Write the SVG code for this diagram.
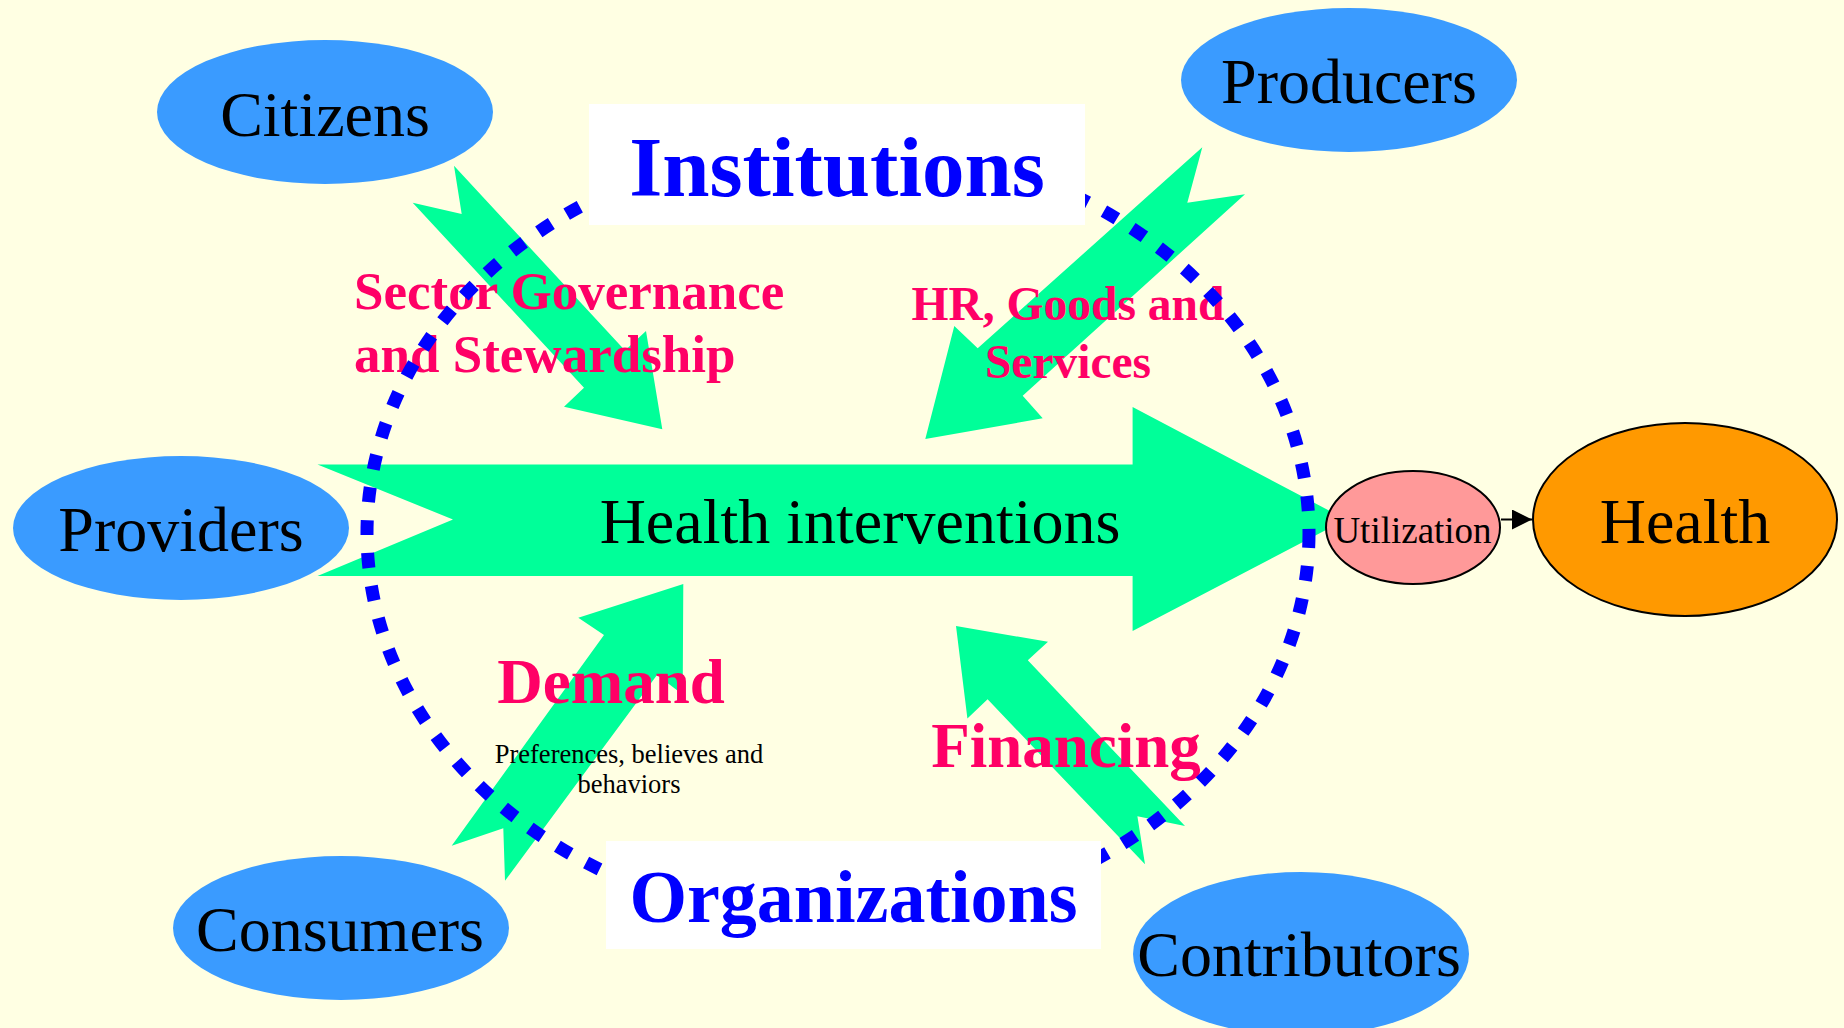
<svg xmlns="http://www.w3.org/2000/svg" width="1844" height="1028" viewBox="0 0 1844 1028">
<defs>
<style>
.bg{fill:#ffffe3}
.actor ellipse{fill:#3a9bff}
.serif{font-family:"Liberation Serif","Times New Roman",serif}
.actor text,.ntext{font-family:"Liberation Serif","Times New Roman",serif;font-size:64px;fill:#000;text-anchor:middle}
.flow{fill:#00ff99}
.lbl{font-family:"Liberation Serif","Times New Roman",serif;font-weight:bold;fill:#ff0066}
.frame{fill:none;stroke:#0000ff;stroke-width:13;stroke-dasharray:15 18}
.box rect{fill:#ffffff}
.box text{font-family:"Liberation Serif","Times New Roman",serif;font-weight:bold;fill:#0000ff;text-anchor:middle}
.out{stroke:#000;stroke-width:2}
</style>
<marker id="ah" markerUnits="userSpaceOnUse" markerWidth="21" markerHeight="20" refX="20" refY="10" orient="auto" viewBox="0 0 21 20"><path d="M0,0 L20,10 L0,20 z" fill="#000"/></marker>
</defs>
<rect class="bg" x="0" y="0" width="1844" height="1028"/>

<g id="citizens" class="actor"><ellipse cx="325" cy="112" rx="168" ry="72"/><text x="325" y="136">Citizens</text></g>
<g id="producers" class="actor"><ellipse cx="1349" cy="80" rx="168" ry="72"/><text x="1349" y="103">Producers</text></g>
<g id="providers" class="actor"><ellipse cx="181" cy="528" rx="168" ry="72"/><text x="181" y="551">Providers</text></g>
<g id="consumers" class="actor"><ellipse cx="341" cy="928" rx="168" ry="72"/><text x="340" y="951">Consumers</text></g>
<g id="contributors" class="actor"><ellipse cx="1301" cy="954" rx="168" ry="82"/><text x="1299" y="976">Contributors</text></g>

<g id="connectors">
<polygon class="flow" points="454,165.7 461.7,214 412.7,202.7 584,387.7 564,406.7 662.3,429.3 646,331 625,350.4"/>
<polygon class="flow" points="1202.3,147.3 1187.3,202.7 1245,194.3 1022.7,395.7 1042.7,418.3 925.3,439 954.3,326 977.7,348.3"/>
<polygon class="flow" points="451.7,845.7 503.3,828.3 505,880.7 657,674.9 682.7,694.5 683.3,584 578.3,617.7 604,635"/>
<polygon class="flow" points="1185,826.1 1137.4,816.3 1145,864.3 987.6,699.3 967.4,718.6 956,626 1048,641.8 1027.8,660.3"/>
<path class="out" d="M1501,519.5 L1532,519.5" marker-end="url(#ah)"/>
</g>

<g id="health-interventions">
<polygon class="flow" points="317.5,464.5 453,519.5 317.5,576 1132.6,576 1132.6,631 1346,519.5 1132.6,407 1132.6,464.5"/>
<text class="ntext" x="860" y="543">Health interventions</text>
</g>

<g id="labels">
<text class="lbl" font-size="53" x="354" y="309">Sector Governance</text>
<text class="lbl" font-size="53" x="354" y="371.5">and Stewardship</text>
<text class="lbl" font-size="47.5" x="1068" y="319.5" text-anchor="middle">HR, Goods and</text>
<text class="lbl" font-size="47.5" x="1068" y="377.5" text-anchor="middle">Services</text>
<text class="lbl" font-size="63" x="611" y="703" text-anchor="middle">Demand</text>
<text class="serif" font-size="26.5" x="629" y="762.5" text-anchor="middle" fill="#000">Preferences, believes and</text>
<text class="serif" font-size="26.5" x="629" y="792.5" text-anchor="middle" fill="#000">behaviors</text>
<text class="lbl" font-size="63" x="1066" y="766.5" text-anchor="middle">Financing</text>
</g>

<g id="system-boundary"><ellipse class="frame" cx="838" cy="533" rx="471" ry="390"/></g>

<g id="institutions" class="box"><rect x="589" y="104" width="496" height="121"/><text x="837" y="196" font-size="85">Institutions</text></g>
<g id="organizations" class="box"><rect x="606" y="841" width="495" height="108"/><text x="853.5" y="922" font-size="74">Organizations</text></g>

<g id="utilization"><ellipse class="out" cx="1413" cy="527.5" rx="87" ry="56.5" fill="#ff9999"/><text class="ntext" x="1412.5" y="542.5" style="font-size:37px">Utilization</text></g>
<g id="health"><ellipse class="out" cx="1685" cy="519.5" rx="152" ry="96.5" fill="#ff9900"/><text class="ntext" x="1685" y="543">Health</text></g>
</svg>
